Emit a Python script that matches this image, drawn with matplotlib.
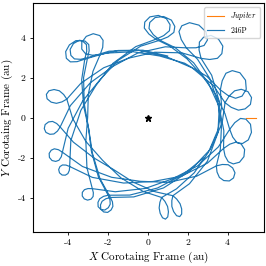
import numpy as np
import matplotlib
matplotlib.use('Agg')
import matplotlib.pyplot as plt

plt.rcParams['font.family'] = 'serif'
plt.rcParams['font.serif'] = ['cmr10', 'DejaVu Serif']
plt.rcParams['mathtext.fontset'] = 'cm'
plt.rcParams['axes.formatter.use_mathtext'] = False
plt.rcParams['axes.unicode_minus'] = False

# Jupiter in the corotating frame (au)
jupiter_x = [4.95, 5.45]
jupiter_y = [0.0, 0.0]

# 246P path, polar form: angle (deg) and distance (au)
# each block = arc in from the previous loop, then the loop itself
path_theta_deg = [
    72, 94, 113.8,
    127, 131.5, 134.1, 133.8, 131.1, 127, 122.9, 120.2, 119.9, 122.5, 127,
    139.6, 158.5, 179.5, 200.5, 219.4,
    232, 234.1, 235.3, 235.2, 233.9, 232, 230.1, 228.8, 228.7, 229.9, 232,
    246.4, 268, 292, 316, 337.6,
    352, 356.8, 359.6, 359.2, 356.4, 352, 347.6, 344.8, 344.4, 347.2, 352,
    3.0, 19.6, 38, 56.4, 73,
    84, 89.1, 92.1, 91.7, 88.7, 84, 79.3, 76.4, 75.9, 78.9, 84,
    99.4, 122.4, 148, 173.6, 196.6,
    212, 213.9, 215.0, 214.9, 213.8, 212, 210.2, 209.1, 209.0, 210.1, 212,
    227.1, 249.8, 275, 300.2, 322.9,
    338, 342.2, 344.7, 344.3, 341.9, 338, 334.2, 331.7, 331.4, 333.8, 338,
    350.4, 8.9, 29.5, 50.1, 68.6,
    81, 86.1, 89.1, 88.7, 85.7, 81, 76.3, 73.4, 72.9, 75.9, 81,
    95.5, 117.3, 141.5, 165.7, 187.5,
    202, 204.3, 205.6, 205.4, 204.1, 202, 199.9, 198.6, 198.4, 199.7, 202,
    216.8, 238.9, 263.5, 288.1, 310.2,
    325, 328, 329.8, 329.5, 327.8, 325, 322.3, 320.5, 320.3, 322, 325,
    336.5, 353.8, 13, 32.2, 49.5,
    61, 66.7, 70, 69.6, 66.2, 61, 55.8, 52.4, 52, 55.3, 61,
    76, 98.5, 123.5, 148.5, 171,
    186, 188.4, 189.8, 189.6, 188.2, 186, 183.8, 182.4, 182.2, 183.6, 186,
    198.2, 216.6, 237, 257.4, 275.8,
    288, 289.7, 290.7, 290.5, 289.5, 288, 286.5, 285.5, 285.3, 286.3, 288,
    302.4, 324, 348, 12, 33.6,
    48, 52.8, 55.6, 55.2, 52.4, 48, 43.6, 40.8, 40.4, 43.2, 48,
    62.3, 83.7, 107.5, 131.3, 152.7,
    167, 169.5, 171.0, 170.8, 169.3, 167, 164.7, 163.2, 163.0, 164.5, 167,
    180.6, 200.9, 223.5, 246.1, 266.4,
    280, 281.7, 282.7, 282.5, 281.5, 280, 278.5, 277.5, 277.3, 278.3, 280,
    292.1, 310.3, 330.5, 350.7, 8.9,
    21, 26.4, 29.6, 29.1, 26.0, 21, 16.1, 12.9, 12.5, 15.6, 21,
    34.9, 55.8, 79, 102.2, 123.1,
    137, 141.5, 144.1, 143.8, 141.1, 137, 132.9, 130.3, 129.9, 132.5, 137,
    150, 169.4, 191, 212.6, 232,
    245, 247.3, 248.6, 248.4, 247.1, 245, 242.9, 241.6, 241.4, 242.7, 245,
    260.1, 282.8, 308, 333.2, 355.9,
    11, 14.9, 17.2, 16.9, 14.6, 11, 7.4, 5.2, 4.8, 7.1, 11,
    25.9, 48.2, 73, 97.8, 120.1,
    135, 138.9, 141.2, 140.9, 138.6, 135, 131.4, 129.2, 128.8, 131.1, 135,
    148, 167.4, 189, 210.6, 230,
    243, 245.3, 246.6, 246.4, 245.1, 243, 240.9, 239.6, 239.4, 240.7, 243,
    257, 278, 301.5, 325,
]
path_r_au = [
    3.25, 3.39, 3.68,
    3.95, 4.18, 4.47, 4.76, 5.01, 5.1, 5.01, 4.76, 4.47, 4.18, 3.95,
    3.59, 3.19, 3.0, 3.3, 3.93,
    4.5, 4.63, 4.79, 4.96, 5.1, 5.15, 5.1, 4.96, 4.79, 4.63, 4.5,
    4.04, 3.54, 3.3, 3.47, 3.83,
    4.15, 4.37, 4.65, 4.92, 5.16, 5.25, 5.16, 4.92, 4.65, 4.37, 4.15,
    3.88, 3.59, 3.45, 3.55, 3.76,
    3.95, 4.19, 4.49, 4.79, 5.05, 5.15, 5.05, 4.79, 4.49, 4.19, 3.95,
    3.61, 3.23, 3.05, 3.36, 4.01,
    4.6, 4.72, 4.87, 5.02, 5.15, 5.2, 5.15, 5.02, 4.87, 4.72, 4.6,
    4.07, 3.48, 3.2, 3.38, 3.76,
    4.1, 4.32, 4.6, 4.87, 5.11, 5.2, 5.11, 4.87, 4.6, 4.32, 4.1,
    3.87, 3.62, 3.5, 3.59, 3.77,
    3.93, 4.17, 4.47, 4.77, 5.03, 5.13, 5.03, 4.77, 4.47, 4.17, 3.93,
    3.6, 3.23, 3.05, 3.36, 4.01,
    4.6, 4.74, 4.92, 5.09, 5.24, 5.3, 5.24, 5.09, 4.92, 4.74, 4.6,
    4.07, 3.48, 3.2, 3.4, 3.82,
    4.2, 4.41, 4.67, 4.94, 5.17, 5.25, 5.17, 4.94, 4.67, 4.41, 4.2,
    3.97, 3.72, 3.6, 3.68, 3.85,
    4.0, 4.26, 4.59, 4.91, 5.2, 5.3, 5.2, 4.91, 4.59, 4.26, 4.0,
    3.66, 3.28, 3.1, 3.36, 3.91,
    4.4, 4.56, 4.76, 4.96, 5.14, 5.2, 5.14, 4.96, 4.76, 4.56, 4.4,
    3.91, 3.36, 3.1, 3.3, 3.72,
    4.1, 4.32, 4.6, 4.87, 5.11, 5.2, 5.11, 4.87, 4.6, 4.32, 4.1,
    3.91, 3.7, 3.6, 3.68, 3.85,
    4.0, 4.26, 4.59, 4.91, 5.2, 5.3, 5.2, 4.91, 4.59, 4.26, 4.0,
    3.67, 3.3, 3.13, 3.33, 3.76,
    4.15, 4.36, 4.62, 4.89, 5.12, 5.2, 5.12, 4.89, 4.62, 4.36, 4.15,
    3.75, 3.31, 3.1, 3.29, 3.69,
    4.05, 4.27, 4.55, 4.82, 5.06, 5.15, 5.06, 4.82, 4.55, 4.27, 4.05,
    3.84, 3.61, 3.5, 3.58, 3.75,
    3.9, 4.17, 4.51, 4.85, 5.14, 5.25, 5.14, 4.85, 4.51, 4.17, 3.9,
    3.62, 3.3, 3.15, 3.38, 3.86,
    4.3, 4.51, 4.77, 5.04, 5.27, 5.35, 5.27, 5.04, 4.77, 4.51, 4.3,
    3.81, 3.26, 3.0, 3.28, 3.87,
    4.4, 4.56, 4.76, 4.96, 5.14, 5.2, 5.14, 4.96, 4.76, 4.56, 4.4,
    4.02, 3.6, 3.4, 3.51, 3.74,
    3.95, 4.22, 4.56, 4.9, 5.19, 5.3, 5.19, 4.9, 4.56, 4.22, 3.95,
    3.67, 3.35, 3.2, 3.41, 3.85,
    4.25, 4.45, 4.7, 4.95, 5.17, 5.25, 5.17, 4.95, 4.7, 4.45, 4.25,
    3.78, 3.25, 3.0, 3.27, 3.84,
    4.35, 4.51, 4.71, 4.91, 5.09, 5.15, 5.09, 4.91, 4.71, 4.51, 4.35,
    3.97, 3.55, 3.35, 3.47,
]

theta = np.radians(path_theta_deg)
comet_x = np.array(path_r_au) * np.cos(theta)
comet_y = np.array(path_r_au) * np.sin(theta)

fig = plt.figure(figsize=(2.66, 2.66), dpi=100)
ax = fig.add_axes([0.123, 0.129, 0.869, 0.858])

ax.plot(jupiter_x, jupiter_y, color='C1', lw=0.8, label='$Jupiter$')
ax.plot(comet_x, comet_y, color='C0', lw=0.85, label='246P')
ax.plot(0, 0, marker='*', color='k', markersize=5, ls='none')

ax.set_xlim(-5.75, 5.82)
ax.set_ylim(-5.7, 5.72)
ax.set_xticks([-4, -2, 0, 2, 4])
ax.set_yticks([-4, -2, 0, 2, 4])
ax.tick_params(labelsize=7, length=2.5, width=0.6, pad=2.5)
ax.set_xlabel('$X$ Corotaing Frame (au)', fontsize=8)
ax.set_ylabel('$Y$ Corotaing Frame (au)', fontsize=8)
ax.xaxis.set_label_coords(0.5, -0.08)
ax.yaxis.set_label_coords(-0.077, 0.5)
ax.legend(loc='upper right', fontsize=5.5, handlelength=2.2)

fig.savefig('out.png', dpi=100)
